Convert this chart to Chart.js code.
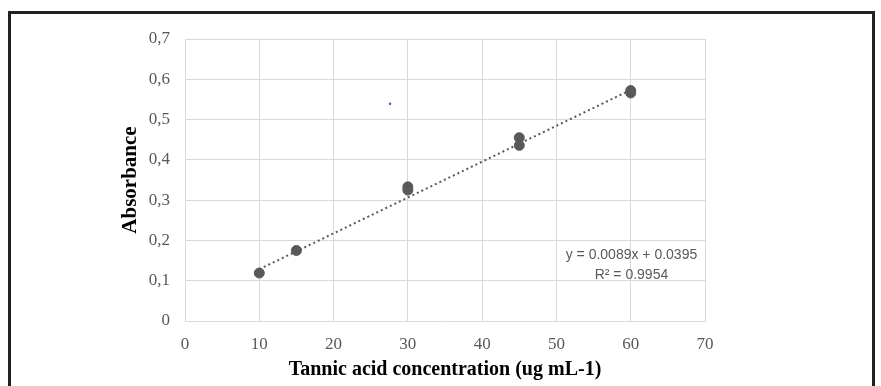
<!DOCTYPE html>
<html>
<head>
<meta charset="utf-8">
<script src="https://cdn.jsdelivr.net/npm/chart.js@4/dist/chart.umd.min.js"></script>
<style>
  html, body { margin: 0; padding: 0; background: #fff; overflow: hidden; }
  #wrap { position: relative; width: 881px; height: 386px; }
  #frame {
    position: absolute; left: 8px; top: 11px; width: 867px; height: 420px;
    border: 3px solid #222; box-sizing: border-box; pointer-events: none;
  }
  canvas { position: absolute; left: 0; top: 0; }
</style>
</head>
<body>
<div id="wrap">
  <canvas id="chart" width="881" height="386"></canvas>
  <div id="frame"></div>
</div>
<script>
// measured points (concentration, absorbance)
const concentration = [10, 15, 30, 30, 45, 45, 60, 60];
const absorbance = [0.119, 0.175, 0.333, 0.325, 0.455, 0.436, 0.572, 0.566];

// linear trendline from the printed equation
const trendSlope = 0.0089;
const trendIntercept = 0.0395;
const trendX = [10, 60];
const trendLabel = ['y = 0.0089x + 0.0395', 'R\u00b2 = 0.9954'];

// stray blue mark in the original
const strayX = [27.6];
const strayY = [0.539];

const xTicks = [0, 10, 20, 30, 40, 50, 60, 70];
const yTicks = [0, 0.1, 0.2, 0.3, 0.4, 0.5, 0.6, 0.7];

const gray = '#595959';
const gridColor = '#d9d9d9';
const serif = '"Liberation Serif", "Times New Roman", serif';

const trendLabelPlugin = {
    id: 'trendLabel',
    afterDatasetsDraw(chart) {
        const { ctx, scales } = chart;
        const cx = scales.x.getPixelForValue(60.1);
        const cy = scales.y.getPixelForValue(0.164);
        ctx.save();
        ctx.font = '14px "Liberation Sans", Arial, sans-serif';
        ctx.fillStyle = gray;
        ctx.textAlign = 'center';
        ctx.textBaseline = 'middle';
        ctx.fillText(trendLabel[0], cx, cy);
        ctx.fillText(trendLabel[1], cx, cy + 20);
        ctx.restore();
    }
};

const ctx = document.getElementById('chart').getContext('2d');
new Chart(ctx, {
    type: 'scatter',
    data: {
        datasets: [
            {
                label: 'Trend',
                type: 'line',
                data: trendX.map(x => ({ x, y: trendSlope * x + trendIntercept })),
                borderColor: gray,
                borderWidth: 2,
                borderDash: [2, 3],
                pointRadius: 0,
                fill: false,
                order: 2
            },
            {
                label: 'Absorbance',
                data: concentration.map((x, i) => ({ x, y: absorbance[i] })),
                backgroundColor: gray,
                borderColor: gray,
                pointRadius: 5,
                order: 1
            },
            {
                label: 'stray',
                data: strayX.map((x, i) => ({ x, y: strayY[i] })),
                backgroundColor: '#4a5fc1',
                borderColor: '#4a5fc1',
                pointRadius: 1.3,
                borderWidth: 0,
                order: 0
            }
        ]
    },
    options: {
        responsive: false,
        animation: false,
        layout: { padding: { left: 118, right: 176, top: 39, bottom: 4 } },
        plugins: {
            legend: { display: false },
            tooltip: { enabled: false }
        },
        scales: {
            x: {
                type: 'linear',
                min: 0,
                max: 70,
                afterBuildTicks: s => { s.ticks = xTicks.map(v => ({ value: v })); },
                afterFit: s => { s.height = 61; },
                grid: { color: gridColor, drawTicks: false },
                border: { color: gridColor },
                ticks: {
                    padding: 13,
                    color: gray,
                    font: { family: serif, size: 17 }
                },
                title: {
                    display: true,
                    text: 'Tannic acid concentration (ug mL-1)',
                    color: '#000',
                    padding: 0,
                    font: { family: serif, size: 20, weight: 'bold', lineHeight: 1.2 }
                }
            },
            y: {
                min: 0,
                max: 0.7,
                afterBuildTicks: s => { s.ticks = yTicks.map(v => ({ value: v })); },
                afterFit: s => { s.width = 67; },
                grid: { color: gridColor, drawTicks: false },
                border: { color: gridColor },
                ticks: {
                    padding: 15,
                    color: gray,
                    font: { family: serif, size: 17 },
                    callback: v => v === 0 ? '0' : v.toFixed(1).replace('.', ',')
                },
                title: {
                    display: true,
                    text: 'Absorbance',
                    color: '#000',
                    padding: 0,
                    font: { family: serif, size: 21, weight: 'bold', lineHeight: 1.2 }
                }
            }
        }
    },
    plugins: [trendLabelPlugin]
});
</script>
</body>
</html>
